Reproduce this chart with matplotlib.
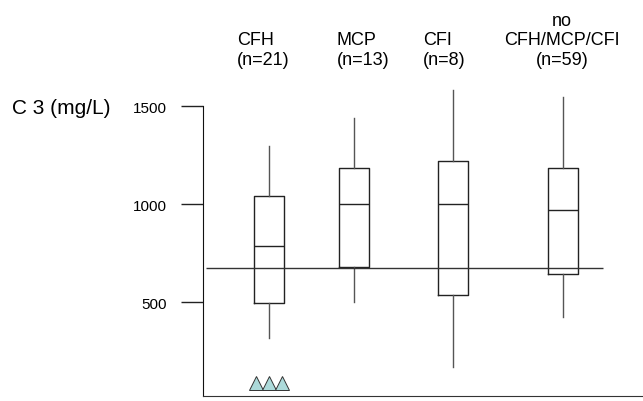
import matplotlib
matplotlib.use('Agg')
import matplotlib.pyplot as plt

plt.rcParams['font.family'] = ['Liberation Sans', 'DejaVu Sans']

# C3 levels per group
groups = ['CFH', 'MCP', 'CFI', 'no\nCFH/MCP/CFI']
counts = [21, 13, 8, 59]
whislo = [320, 500, 170, 423]
q1 = [497, 678, 536, 643]
med = [787, 1000, 1000, 969]
q3 = [1042, 1185, 1222, 1185]
whishi = [1297, 1440, 1585, 1549]
ref_level = 675
yticks = [500, 1000, 1500]
tri_level = 88

# layout
positions = [1.5, 3.43, 5.68, 8.19]
label_x = [237, 337, 423, 562]
W, H = 643, 402

fig = plt.figure(figsize=(W / 100, H / 100), dpi=100)
ax = fig.add_axes([203 / W, 5 / H, 440 / W, 312 / H])

stats = []
for i in range(len(groups)):
    stats.append(dict(whislo=whislo[i], q1=q1[i], med=med[i], q3=q3[i],
                      whishi=whishi[i], fliers=[]))

ax.bxp(stats, positions=positions, widths=0.68, showcaps=False, showfliers=False,
       boxprops=dict(color='#222222', lw=1.0),
       whiskerprops=dict(color='#555555', lw=1.0),
       medianprops=dict(color='#222222', lw=1.0))

ax.hlines(ref_level, 0.07, 9.09, color='#333333', lw=1.0, zorder=3)

# three triangles under the CFH box
p = positions[0]
ax.plot([p - 0.3, p, p + 0.3], [tri_level] * 3, linestyle='none', marker='^',
        markersize=9.5, markerfacecolor='#acdada', markeredgecolor='#333333',
        markeredgewidth=0.7)

ax.set_xlim(0, 10)
ax.set_ylim(22, 1614)
ax.spines['top'].set_visible(False)
ax.spines['right'].set_visible(False)
ax.spines['left'].set_bounds(22, 1500)
ax.spines['left'].set_color('#111111')
ax.spines['bottom'].set_color('#333333')
ax.set_xticks([])
ax.set_yticks(yticks)
ax.tick_params(axis='y', length=16, width=1.0, pad=10, labelsize=11, color='#222222')

for i, g in enumerate(groups):
    txt = g + '\n(n=%d)' % counts[i]
    if '\n' in g:
        fig.text(label_x[i] / W, 1 - 69 / H, txt, ha='center', va='bottom',
                 multialignment='center', fontsize=13)
    else:
        fig.text(label_x[i] / W, 1 - 69 / H, txt, ha='left', va='bottom',
                 multialignment='left', fontsize=13)

fig.text(12 / W, 1 - 109 / H, 'C 3 (mg/L)', ha='left', va='center', fontsize=15)

fig.savefig('out.png', dpi=100)
